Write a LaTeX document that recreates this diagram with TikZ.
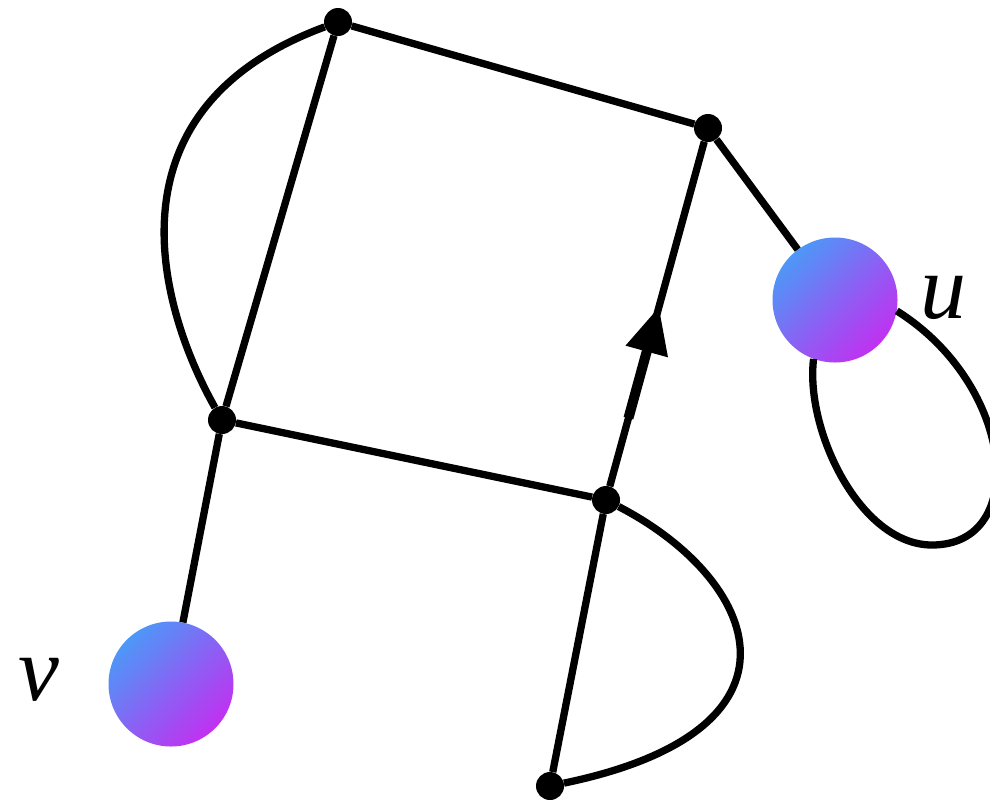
\documentclass[tikz,border=0pt]{standalone}
\usepackage{fontspec}
\setmainfont{Liberation Serif}
\usetikzlibrary{arrows.meta,decorations.markings,calc}
\definecolor{gcyan}{RGB}{56,170,248}
\definecolor{gmag}{RGB}{214,30,240}
\pgfdeclareverticalshading{diagball}{100bp}{color(0bp)=(gmag); color(16bp)=(gmag); color(84bp)=(gcyan); color(100bp)=(gcyan)}
\tikzset{
  edge/.style={line width=7.3pt, black},
  dot/.style={circle, fill=black, minimum size=28pt, inner sep=0pt},
  ball/.style={circle, minimum size=125pt, inner sep=0pt, shading=diagball, shading angle=45},
  lab/.style={font=\fontsize{92}{92}\selectfont\itshape, inner sep=0pt}
}
\begin{document}
\begin{tikzpicture}[x=1pt,y=-1pt]
\useasboundingbox (0,0) rectangle (990,801);
% nodes
\node[dot] (A) at (338,22) {};
\node[dot] (B) at (708,128) {};
\node[dot] (C) at (222,420) {};
\node[dot] (D) at (606,500) {};
\node[dot] (E) at (550,786) {};
\node[ball] (u) at (835,300) {};
\node[ball] (v) at (171,684) {};
\node[lab] (ul) at (943,298) {u};
\node[lab] (vl) at (39,680) {v};
% edges
\draw[edge] (A) -- (B);
\draw[edge] (A) -- (C);
\draw[edge] (A) .. controls (100,110) and (160,310) .. (C);
\draw[edge] (C) -- (D);
\draw[edge, postaction={decorate}, decoration={markings, mark=at position 0.52 with {\arrow{Triangle[length=46pt,width=42pt]}}}] (D) -- (B);
\draw[line width=10pt] ($(D)!0.22!(B)$) -- ($(D)!0.40!(B)$);
\draw[edge] (B) -- (u);
\draw[edge] (C) -- (v);
\draw[edge] (D) -- (E);
\draw[edge] (D) .. controls (760,580) and (820,730) .. (E);
\draw[edge] (u.-10) .. controls (1015,385) and (1030,545) .. (932,545)
  .. controls (860,545) and (805,430) .. (u.250);
\end{tikzpicture}
\end{document}
